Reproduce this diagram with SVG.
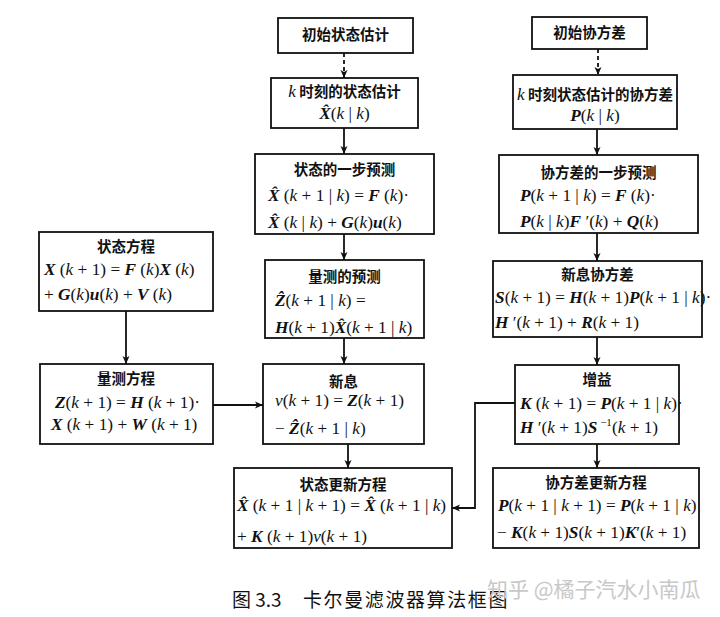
<svg xmlns="http://www.w3.org/2000/svg" width="720" height="617" viewBox="0 0 720 617">
<defs>
<marker id="ah" markerWidth="8" markerHeight="8" refX="8" refY="4" orient="auto" markerUnits="userSpaceOnUse">
<path d="M0,0.5 L8,4 L0,7.5 L2,4 Z" fill="#111"/>
</marker>
</defs>
<style>
rect{fill:#fff;stroke:#111;stroke-width:1.8}
.t{font-family:"Noto Sans CJK SC","Noto Sans CJK JP",sans-serif;font-size:14.5px;font-weight:700;text-anchor:middle;fill:#111}
.e{font-family:"Liberation Serif",serif;font-size:17.3px;fill:#111}
.c{text-anchor:middle}
.b{font-weight:bold;font-style:italic}
.i{font-style:italic}
.s{font-size:11px}
.con path,.con line{fill:none;stroke:#111;stroke-width:1.8}
.cap{font-family:"Noto Sans CJK SC",sans-serif;font-size:19px;fill:#111}
.cap2{letter-spacing:1.6px}
.wm{font-family:"Noto Sans CJK SC",sans-serif;font-size:21px;fill:#c8c8c8}
</style>
<rect x="0" y="0" width="720" height="617" style="fill:#fff;stroke:none"/>

<g id="init-state">
<rect x="278" y="18" width="135" height="35"/>
<text class="t" x="345.5" y="40">初始状态估计</text>
</g>
<g id="state-k">
<rect x="271" y="78" width="147" height="50"/>
<text class="t" x="344.5" y="97"><tspan class="e i" style="font-weight:normal">k</tspan> 时刻的状态估计</text>
<text class="e c" x="344.5" y="119"><tspan class="b">X̂</tspan>(<tspan class="i">k</tspan> | <tspan class="i">k</tspan>)</text>
</g>
<g id="state-pred">
<rect x="255" y="154" width="179" height="80"/>
<text class="t" x="344.5" y="175">状态的一步预测</text>
<text class="e" x="268" y="201"><tspan class="b">X̂</tspan> (<tspan class="i">k</tspan> + 1 | <tspan class="i">k</tspan>) = <tspan class="b">F</tspan> (<tspan class="i">k</tspan>)·</text>
<text class="e" x="268" y="228"><tspan class="b">X̂</tspan> (<tspan class="i">k</tspan> | <tspan class="i">k</tspan>) + <tspan class="b">G</tspan>(<tspan class="i">k</tspan>)<tspan class="b">u</tspan>(<tspan class="i">k</tspan>)</text>
</g>
<g id="meas-pred">
<rect x="265" y="260" width="159" height="78"/>
<text class="t" x="344.5" y="282">量测的预测</text>
<text class="e" x="275" y="306"><tspan class="b">Ẑ</tspan>(<tspan class="i">k</tspan> + 1 | <tspan class="i">k</tspan>) =</text>
<text class="e" x="275" y="333"><tspan class="b">H</tspan>(<tspan class="i">k</tspan> + 1)<tspan class="b">X̂</tspan>(<tspan class="i">k</tspan> + 1 | <tspan class="i">k</tspan>)</text>
</g>
<g id="innov">
<rect x="263" y="364" width="161" height="80"/>
<text class="t" x="343.5" y="387">新息</text>
<text class="e" x="275" y="406"><tspan class="i">ν</tspan>(<tspan class="i">k</tspan> + 1) = <tspan class="b">Z</tspan>(<tspan class="i">k</tspan> + 1)</text>
<text class="e" x="275" y="434">− <tspan class="b">Ẑ</tspan>(<tspan class="i">k</tspan> + 1 | <tspan class="i">k</tspan>)</text>
</g>
<g id="state-update">
<rect x="234" y="468" width="218" height="80"/>
<text class="t" x="343" y="490">状态更新方程</text>
<text class="e" x="237" y="511"><tspan class="b">X̂</tspan> (<tspan class="i">k</tspan> + 1 | <tspan class="i">k</tspan> + 1) = <tspan class="b">X̂</tspan> (<tspan class="i">k</tspan> + 1 | <tspan class="i">k</tspan>)</text>
<text class="e" x="237" y="542">+ <tspan class="b">K</tspan> (<tspan class="i">k</tspan> + 1)<tspan class="i">ν</tspan>(<tspan class="i">k</tspan> + 1)</text>
</g>
<g id="state-eq">
<rect x="39" y="232" width="174" height="79"/>
<text class="t" x="126" y="252">状态方程</text>
<text class="e" x="44" y="275"><tspan class="b">X</tspan> (<tspan class="i">k</tspan> + 1) = <tspan class="b">F</tspan> (<tspan class="i">k</tspan>)<tspan class="b">X</tspan> (<tspan class="i">k</tspan>)</text>
<text class="e" x="44" y="300">+ <tspan class="b">G</tspan>(<tspan class="i">k</tspan>)<tspan class="b">u</tspan>(<tspan class="i">k</tspan>) + <tspan class="b">V</tspan> (<tspan class="i">k</tspan>)</text>
</g>
<g id="meas-eq">
<rect x="40" y="364" width="173" height="80"/>
<text class="t" x="126" y="384">量测方程</text>
<text class="e" x="55" y="408"><tspan class="b">Z</tspan>(<tspan class="i">k</tspan> + 1) = <tspan class="b">H</tspan> (<tspan class="i">k</tspan> + 1)·</text>
<text class="e" x="51" y="430"><tspan class="b">X</tspan> (<tspan class="i">k</tspan> + 1) + <tspan class="b">W</tspan> (<tspan class="i">k</tspan> + 1)</text>
</g>
<g id="init-cov">
<rect x="532" y="17" width="115" height="32"/>
<text class="t" x="589.5" y="38">初始协方差</text>
</g>
<g id="cov-k">
<rect x="513" y="75" width="164" height="54"/>
<text class="t" x="595" y="100"><tspan class="e i" style="font-weight:normal">k</tspan> 时刻状态估计的协方差</text>
<text class="e c" x="595" y="121"><tspan class="b">P</tspan>(<tspan class="i">k</tspan> | <tspan class="i">k</tspan>)</text>
</g>
<g id="cov-pred">
<rect x="499" y="155" width="199" height="78"/>
<text class="t" x="598.5" y="178">协方差的一步预测</text>
<text class="e" x="520" y="201"><tspan class="b">P</tspan>(<tspan class="i">k</tspan> + 1 | <tspan class="i">k</tspan>) = <tspan class="b">F</tspan> (<tspan class="i">k</tspan>)·</text>
<text class="e" x="520" y="227"><tspan class="b">P</tspan>(<tspan class="i">k</tspan> | <tspan class="i">k</tspan>)<tspan class="b">F</tspan> ′(<tspan class="i">k</tspan>) + <tspan class="b">Q</tspan>(<tspan class="i">k</tspan>)</text>
</g>
<g id="innov-cov">
<rect x="493" y="261" width="209" height="76"/>
<text class="t" x="597.5" y="280">新息协方差</text>
<text class="e" x="495" y="303"><tspan class="b">S</tspan>(<tspan class="i">k</tspan> + 1) = <tspan class="b">H</tspan>(<tspan class="i">k</tspan> + 1)<tspan class="b">P</tspan>(<tspan class="i">k</tspan> + 1 | <tspan class="i">k</tspan>)·</text>
<text class="e" x="495" y="328"><tspan class="b">H</tspan> ′(<tspan class="i">k</tspan> + 1) + <tspan class="b">R</tspan>(<tspan class="i">k</tspan> + 1)</text>
</g>
<g id="gain">
<rect x="515" y="365" width="164" height="79"/>
<text class="t" x="597" y="385">增益</text>
<text class="e" x="520" y="409"><tspan class="b">K</tspan> (<tspan class="i">k</tspan> + 1) = <tspan class="b">P</tspan>(<tspan class="i">k</tspan> + 1 | <tspan class="i">k</tspan>)·</text>
<text class="e" x="520" y="433"><tspan class="b">H</tspan> ′(<tspan class="i">k</tspan> + 1)<tspan class="b">S</tspan><tspan class="s" dy="-7"> −1</tspan><tspan dy="7">(</tspan><tspan class="i">k</tspan> + 1)</text>
</g>
<g id="cov-update">
<rect x="493" y="468" width="206" height="80"/>
<text class="t" x="596" y="488">协方差更新方程</text>
<text class="e" x="498" y="511"><tspan class="b">P</tspan>(<tspan class="i">k</tspan> + 1 | <tspan class="i">k</tspan> + 1) = <tspan class="b">P</tspan>(<tspan class="i">k</tspan> + 1 | <tspan class="i">k</tspan>)</text>
<text class="e" x="497" y="538">− <tspan class="b">K</tspan>(<tspan class="i">k</tspan> + 1)<tspan class="b">S</tspan>(<tspan class="i">k</tspan> + 1)<tspan class="b">K</tspan>′(<tspan class="i">k</tspan> + 1)</text>
</g>

<g class="con">
<line x1="344" y1="53" x2="344" y2="78" stroke-dasharray="4,3" marker-end="url(#ah)"/>
<line x1="344" y1="128" x2="344" y2="154" marker-end="url(#ah)"/>
<line x1="344" y1="234" x2="344" y2="260" marker-end="url(#ah)"/>
<line x1="344" y1="338" x2="344" y2="364" marker-end="url(#ah)"/>
<line x1="348" y1="444" x2="348" y2="468" marker-end="url(#ah)"/>
<line x1="126" y1="311" x2="126" y2="364" marker-end="url(#ah)"/>
<line x1="213" y1="405" x2="263" y2="405" marker-end="url(#ah)"/>
<line x1="598" y1="49" x2="598" y2="75" stroke-dasharray="4,3" marker-end="url(#ah)"/>
<line x1="597" y1="129" x2="597" y2="155" marker-end="url(#ah)"/>
<line x1="597" y1="233" x2="597" y2="261" marker-end="url(#ah)"/>
<line x1="597" y1="337" x2="597" y2="365" marker-end="url(#ah)"/>
<line x1="597" y1="444" x2="597" y2="468" marker-end="url(#ah)"/>
<path d="M515,403 H475 V508 H452" marker-end="url(#ah)"/>
</g>

<text class="cap" x="232" y="607">图 3.3<tspan class="cap2" x="303">卡尔曼滤波器算法框图</tspan></text>
<text class="wm" x="487" y="597">知乎 @橘子汽水小南瓜</text>
</svg>
